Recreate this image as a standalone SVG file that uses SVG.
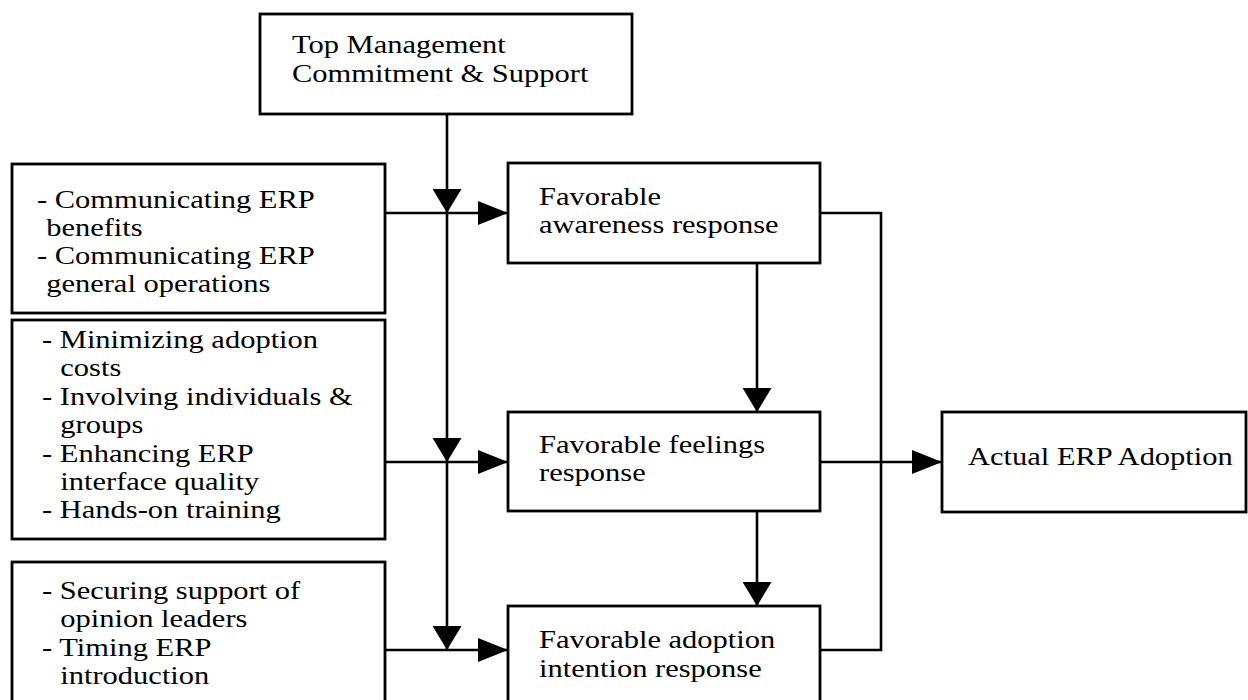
<svg xmlns="http://www.w3.org/2000/svg" width="1248" height="700" viewBox="0 0 1248 700">
<style>
rect.box{fill:#fff;stroke:#000;stroke-width:2.8}
text{font-family:"Liberation Serif","Times New Roman",serif;font-size:25px;fill:#000}
.c{fill:none;stroke:#000;stroke-width:2.6}
</style>
<defs>
<marker id="aR" markerUnits="userSpaceOnUse" markerWidth="30" markerHeight="24" refX="30" refY="12" orient="auto">
<path d="M0,0 L30,12 L0,24 z" fill="#000"/>
</marker>
<marker id="aD" markerUnits="userSpaceOnUse" markerWidth="24" markerHeight="29" refX="24" refY="14.5" orient="auto">
<path d="M0,0 L24,14.5 L0,29 z" fill="#000"/>
</marker>
</defs>
<rect width="1248" height="700" fill="#fff"/>
<g id="top">
<rect class="box" x="260" y="14" width="372" height="100"/>
<text transform="translate(292,53) scale(1.22,1)"><tspan x="0" y="0">Top Management</tspan><tspan x="0" y="29">Commitment &amp; Support</tspan></text>
</g>
<g id="boxA">
<rect class="box" x="12" y="164" width="373" height="149"/>
<text transform="translate(37,208) scale(1.22,1)"><tspan x="0" y="0">- Communicating ERP</tspan><tspan x="7.5" y="28">benefits</tspan><tspan x="0" y="56">- Communicating ERP</tspan><tspan x="7.5" y="84">general operations</tspan></text>
</g>
<g id="boxB">
<rect class="box" x="12" y="320" width="373" height="219"/>
<text transform="translate(42,348) scale(1.22,1)"><tspan x="0" y="0">- Minimizing adoption</tspan><tspan x="15" y="28.4">costs</tspan><tspan x="0" y="56.8">- Involving individuals &amp;</tspan><tspan x="15" y="85.2">groups</tspan><tspan x="0" y="113.6">- Enhancing ERP</tspan><tspan x="15" y="142">interface quality</tspan><tspan x="0" y="170.4">- Hands-on training</tspan></text>
</g>
<g id="boxC">
<rect class="box" x="12" y="562" width="373" height="150"/>
<text transform="translate(42,599) scale(1.22,1)"><tspan x="0" y="0">- Securing support of</tspan><tspan x="15" y="28.4">opinion leaders</tspan><tspan x="0" y="56.8">- Timing ERP</tspan><tspan x="15" y="85.2">introduction</tspan></text>
</g>
<g id="awareness">
<rect class="box" x="508" y="163" width="312" height="100"/>
<text transform="translate(539,205) scale(1.22,1)"><tspan x="0" y="0">Favorable</tspan><tspan x="0" y="28.5">awareness response</tspan></text>
</g>
<g id="feelings">
<rect class="box" x="508" y="412" width="312" height="99"/>
<text transform="translate(539,453) scale(1.22,1)"><tspan x="0" y="0">Favorable feelings</tspan><tspan x="0" y="28.5">response</tspan></text>
</g>
<g id="adoption">
<rect class="box" x="508" y="606" width="312" height="110"/>
<text transform="translate(539,648) scale(1.22,1)"><tspan x="0" y="0">Favorable adoption</tspan><tspan x="0" y="29">intention response</tspan></text>
</g>
<g id="actual">
<rect class="box" x="942" y="412" width="304" height="100"/>
<text transform="translate(968,465) scale(1.22,1)">Actual ERP Adoption</text>
</g>
<g id="connectors">
<line class="c" x1="447" y1="114" x2="447" y2="213" marker-end="url(#aD)"/>
<line class="c" x1="447" y1="213" x2="447" y2="462" marker-end="url(#aD)"/>
<line class="c" x1="447" y1="462" x2="447" y2="650" marker-end="url(#aD)"/>
<line class="c" x1="385" y1="213" x2="508" y2="213" marker-end="url(#aR)"/>
<line class="c" x1="385" y1="462" x2="508" y2="462" marker-end="url(#aR)"/>
<line class="c" x1="385" y1="650" x2="508" y2="650" marker-end="url(#aR)"/>
<line class="c" x1="757" y1="263" x2="757" y2="412" marker-end="url(#aD)"/>
<line class="c" x1="757" y1="511" x2="757" y2="606" marker-end="url(#aD)"/>
<path class="c" d="M820,213 H881 V650 H820"/>
<line class="c" x1="820" y1="462" x2="942" y2="462" marker-end="url(#aR)"/>
</g>
</svg>
